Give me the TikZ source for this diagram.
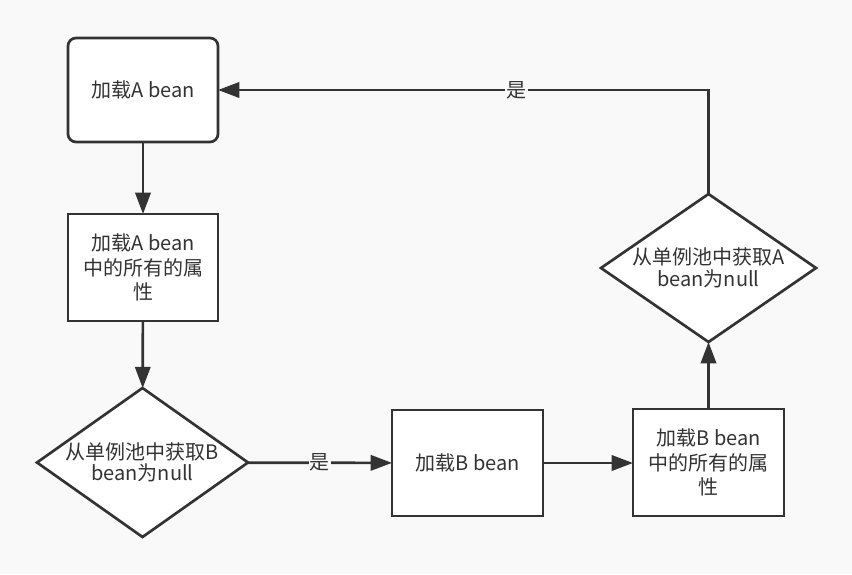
\documentclass[tikz,border=0pt]{standalone}
\usepackage{fontspec}
\setmainfont{Noto Sans CJK SC}
\usetikzlibrary{shapes.geometric,arrows.meta}
\definecolor{bg}{HTML}{F9F9F9}
\definecolor{ink}{HTML}{333333}
\begin{document}
\begin{tikzpicture}[x=0.75pt,y=-0.75pt,
  shp/.style={draw=ink, fill=white, line width=2pt, inner sep=0pt, outer sep=0pt,
    align=center, text=ink},
  box/.style={shp, rectangle, font=\fontsize{15}{18.4}\selectfont},
  rbox/.style={box, rounded corners=6pt},
  dec/.style={shp, diamond, inner sep=-3pt, font=\fontsize{15}{16.2}\selectfont},
  conn/.style={draw=ink, line width=2pt, -{Triangle[length=16pt,width=11.5pt]}},
  lbl/.style={fill=bg, text=ink, inner sep=1pt, font=\fontsize{15}{16}\selectfont}
]
\fill[bg] (0,0) rectangle (852,574);
\useasboundingbox (0,0) rectangle (852,574);

\node[rbox, minimum width=112.5pt, minimum height=78pt] (A) at (143,90) {加载A bean};
\node[box, minimum width=112.5pt, minimum height=80.25pt] (B) at (143,267.5) {加载A bean\\中的所有的属\\性};
\node[dec, aspect=1.416, minimum width=158.25pt, minimum height=111.75pt] (C) at (142.5,462.5) {从单例池中获取B\\bean为null};
\node[box, minimum width=113.25pt, minimum height=79.5pt] (D) at (467.5,463) {加载B bean};
\node[box, minimum width=113.25pt, minimum height=80.25pt] (E) at (708.5,462.5) {加载B bean\\中的所有的属\\性};
\node[dec, aspect=1.453, minimum width=161.25pt, minimum height=111pt] (F) at (708.5,268) {从单例池中获取A\\bean为null};

\draw[conn] (A) -- (B);
\draw[conn] (B) -- (C);
\draw[conn] (C) -- node[lbl]{是} (D);
\draw[conn] (D.east) -- (E.west |- D.east);
\draw[conn] (E) -- (F);
\draw[conn] (F.north) |- node[lbl, pos=0.696]{是} (A.east);
\end{tikzpicture}
\end{document}
